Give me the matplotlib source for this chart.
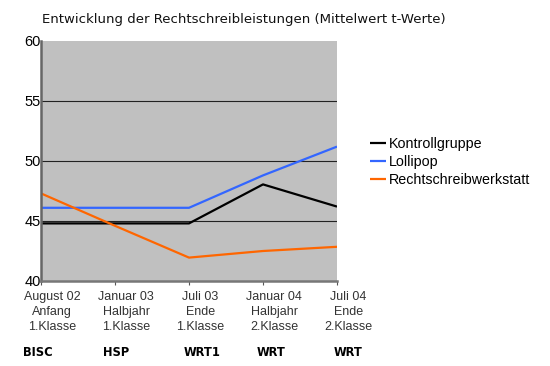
import matplotlib
matplotlib.use("Agg")
import matplotlib.pyplot as plt

categories = ["August 02\nAnfang\n1.Klasse", "Januar 03\nHalbjahr\n1.Klasse",
              "Juli 03\nEnde\n1.Klasse", "Januar 04\nHalbjahr\n2.Klasse",
              "Juli 04\nEnde\n2.Klasse"]
tests = ["BISC", "HSP", "WRT1", "WRT", "WRT"]
kontroll = [44.8, 44.8, 44.8, 48.05, 46.2]
lollipop = [46.1, 46.1, 46.1, 48.8, 51.2]
werkstatt = [47.3, 44.6, 41.95, 42.5, 42.85]
series_names = ["Kontrollgruppe", "Lollipop", "Rechtschreibwerkstatt"]
colors = ["#000000", "#3366FF", "#FF6600"]

fig = plt.figure(figsize=(5.5, 3.66), dpi=100)
ax = fig.add_axes([41/550, 1-281/366, 296/550, 240/366])
ax.set_facecolor("#C0C0C0")

x = list(range(len(categories)))
for vals, name, c in zip([kontroll, lollipop, werkstatt], series_names, colors):
    ax.plot(x, vals, color=c, lw=1.6, label=name, solid_capstyle="butt")

ax.set_xlim(0, 4)
ax.set_ylim(40, 60)
ax.set_yticks([40, 45, 50, 55, 60])
for yv in [45, 50, 55]:
    ax.axhline(yv, color="#222222", lw=0.8, zorder=0.5)
ax.tick_params(axis="y", length=0, pad=0, labelsize=10.5)
for lbl in ax.get_yticklabels():
    lbl.set_fontfamily("Liberation Sans")
ax.set_xticks(x)
ax.set_xticklabels([])
ax.tick_params(axis="x", length=3, color="#555555", direction="out")
for s in ["top", "right"]:
    ax.spines[s].set_visible(False)
ax.spines["left"].set_color("#666666")
ax.spines["left"].set_linewidth(1.8)
ax.spines["bottom"].set_color("#777777")
ax.spines["bottom"].set_linewidth(1.8)

for i, lab in enumerate(categories):
    ax.text(i + 0.15, 40 - 0.85, lab, ha="center", va="top", fontsize=9,
            family="Liberation Sans", color="#333333", linespacing=1.32)

left_px = [23, 103, 184, 257, 334]
for lp, t in zip(left_px, tests):
    fig.text(lp/550, 1-352/366, t, ha="left", va="center", fontsize=8.3,
             family="DejaVu Sans", color="#000000", fontweight="semibold")

fig.text(42/550, 1-20/366, "Entwicklung der Rechtschreibleistungen (Mittelwert t-Werte)",
         ha="left", va="center", fontsize=9.5, family="DejaVu Sans", color="#111111")

fig.legend(loc="upper left", bbox_to_anchor=(357/550, 1-124/366), frameon=False,
           handlelength=1.1, handletextpad=0.2, labelspacing=0.3,
           prop={"family": "Liberation Sans", "size": 10.3})

fig.savefig("out.png", dpi=100)
